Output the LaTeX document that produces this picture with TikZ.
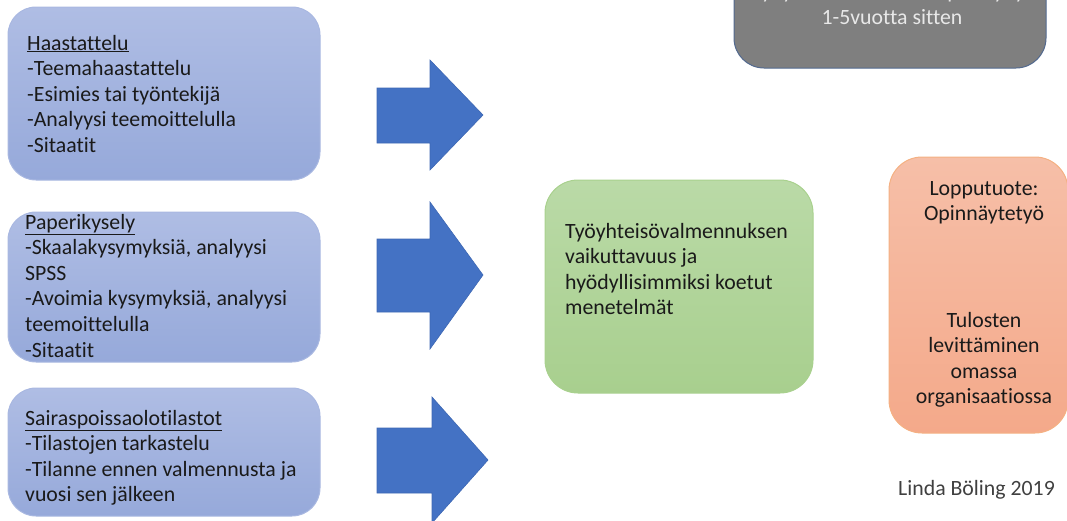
\documentclass[tikz,border=0pt]{standalone}
\usepackage{fontspec}
\setmainfont{Carlito}[Ligatures=NoCommon]
\definecolor{bluetop}{HTML}{AFBDE4}
\definecolor{bluebot}{HTML}{96A9DA}
\definecolor{blueline}{HTML}{A9B8E1}
\definecolor{greentop}{HTML}{BADAA7}
\definecolor{greenbot}{HTML}{A8CF8E}
\definecolor{greenline}{HTML}{A9D18E}
\definecolor{orangetop}{HTML}{F6BFA8}
\definecolor{orangebot}{HTML}{F4A98A}
\definecolor{orangeline}{HTML}{F4B183}
\definecolor{grayfill}{HTML}{7F7F7F}
\definecolor{grayline}{HTML}{52698F}
\definecolor{arrowblue}{HTML}{4472C4}
\definecolor{arrowline}{HTML}{3D67B3}
\definecolor{txt}{HTML}{1A1A1A}
\definecolor{signtxt}{HTML}{404040}
\definecolor{graytxt}{HTML}{E8E8E8}
\newcommand{\lftlines}[1]{\vtop{\halign{##\hfil\cr#1\crcr}}}
\newcommand{\ctrlines}[1]{\vtop{\halign{\hfil##\hfil\cr#1\crcr}}}
\begin{document}
\begin{tikzpicture}[x=1pt,y=-1pt,
  boxtext/.style={inner sep=0pt,text=txt,font=\fontsize{21.8}{25.6}\selectfont},
  bluebox/.style={draw=blueline,line width=1pt,top color=bluetop,bottom color=bluebot,rounded corners=28pt},
  greenbox/.style={draw=greenline,line width=1pt,top color=greentop,bottom color=greenbot,rounded corners=33pt},
  orangebox/.style={draw=orangeline,line width=1pt,top color=orangetop,bottom color=orangebot,rounded corners=33pt},
  graybox/.style={draw=grayline,line width=1pt,fill=grayfill,rounded corners=30pt},
  blockarrow/.style={fill=arrowblue,draw=arrowline,line width=0.6pt,line join=miter}
]
\useasboundingbox (0,0) rectangle (1067,520);
\clip (0,0) rectangle (1067,520);

% boxes
\draw[bluebox] (8,7) rectangle (320,180);
\draw[bluebox] (8,212) rectangle (320,362);
\draw[bluebox] (8,388) rectangle (320,516);
\draw[greenbox] (545,180) rectangle (813,393);
\draw[orangebox] (889,157) rectangle (1068,433);
\draw[graybox] (734,-40) rectangle (1046,68);

% block arrows
\draw[blockarrow] (377,88) -- (430,88) -- (430,60) -- (483,115) -- (430,170) -- (430,143) -- (377,143) -- cycle;
\draw[blockarrow] (377,239) -- (430,239) -- (430,202) -- (483,275) -- (430,349) -- (430,312) -- (377,312) -- cycle;
\draw[blockarrow] (377,428) -- (432,428) -- (432,397) -- (488,460) -- (432,523) -- (432,493) -- (377,493) -- cycle;

% texts
\node[boxtext,anchor=base west] (t1) at (27,50) {\lftlines{\underline{Haastattelu}\cr -Teemahaastattelu\cr -Esimies tai työntekijä\cr -Analyysi teemoittelulla\cr -Sitaatit}};
\node[boxtext,anchor=base west] (t2) at (25,229) {\lftlines{\underline{Paperikysely}\cr -Skaalakysymyksiä, analyysi\cr SPSS\cr -Avoimia kysymyksiä, analyysi\cr teemoittelulla\cr -Sitaatit}};
\node[boxtext,anchor=base west] (t3) at (25,425) {\lftlines{\underline{Sairaspoissaolotilastot}\cr -Tilastojen tarkastelu\cr -Tilanne ennen valmennusta ja\cr vuosi sen jälkeen}};
\node[boxtext,anchor=base west] (tg) at (565,238) {\lftlines{Työyhteisövalmennuksen\cr vaikuttavuus ja\cr hyödyllisimmiksi koetut\cr menetelmät}};
\node[boxtext,anchor=base] (to1) at (984,195) {\ctrlines{Lopputuote:\cr Opinnäytetyö}};
\node[boxtext,anchor=base] (to2) at (984,327) {\ctrlines{Tulosten\cr levittäminen\cr omassa\cr organisaatiossa}};
\node[boxtext,anchor=base,text=graytxt] (tgr) at (892,-1.5) {\ctrlines{Työyhteisövalmennus päättynyt\cr 1-5vuotta sitten}};
\node[boxtext,anchor=base west,text=signtxt] (sign) at (898,495) {Linda Böling 2019};
\end{tikzpicture}
\end{document}
